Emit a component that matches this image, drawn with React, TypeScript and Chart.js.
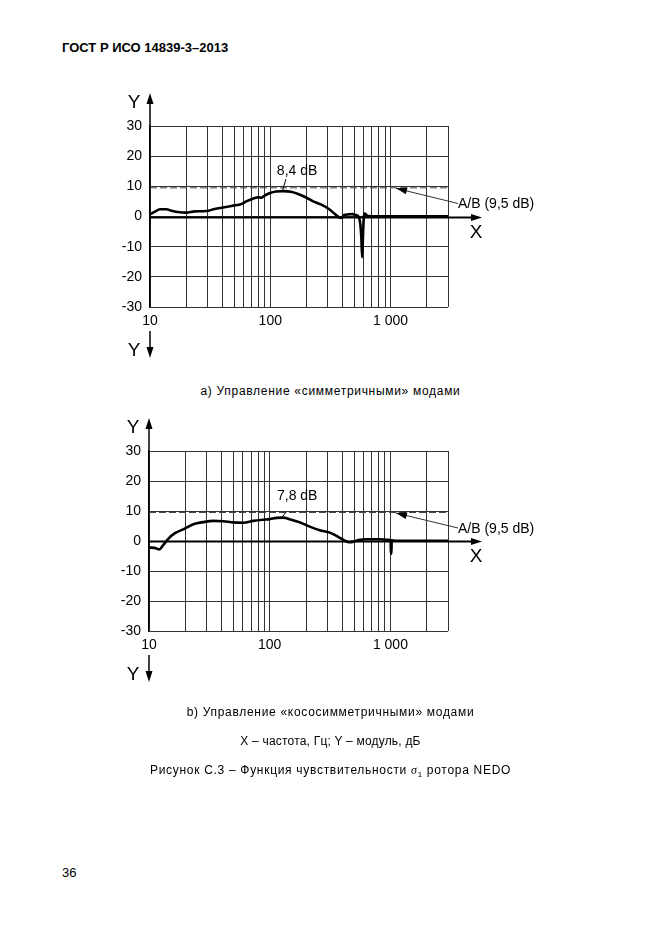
import React, { useEffect, useRef } from "react";
import { Chart, registerables } from "chart.js";

Chart.register(...registerables);

// ---------- data ----------
const GRID_FREQS = [10, 20, 30, 40, 50, 60, 70, 80, 90, 100, 200, 300, 400, 500, 600, 700, 800, 900, 1000, 2000, 3000];
const LABELED_FREQS = [10, 100, 1000];
const Y_TICKS = [-30, -20, -10, 0, 10, 20, 30];
const AB_LEVEL = 9.5;

// a) symmetric modes
const FREQ_A = [10, 11, 12.1, 13.7, 15.1, 17.7, 19.9, 23.6, 29.4, 34.5, 40.5, 49, 57.4, 63, 71.6, 80.3, 84, 89.5, 98.4, 111.7, 126.8, 148.6, 174, 198, 225, 263, 309, 340, 373, 389, 411, 447, 482, 513, 540, 560, 572, 580, 588, 597, 603, 621, 641, 700, 1000, 2000, 3000];
const MAG_A = [0.7, 1.6, 2.4, 2.4, 1.9, 1.4, 1.3, 1.7, 1.8, 2.5, 3.0, 3.6, 4.1, 5.0, 5.9, 6.4, 6.2, 6.9, 7.7, 8.3, 8.4, 8.2, 7.3, 6.3, 5.1, 4.0, 2.4, 1.0, -0.3, -0.5, 0.5, 0.7, 0.8, 0.5, 0.0, -2.5, -7.5, -13.5, -7.5, -1.0, 1.0, 0.8, 0.2, 0.1, 0.1, 0.1, 0.1];

// b) skew-symmetric modes
const FREQ_B = [10, 11.1, 12.2, 13.1, 14.5, 16.4, 19.2, 23.3, 28.2, 34.1, 41.2, 49.9, 60.4, 73, 88.3, 100, 114, 129, 151, 178, 215, 260, 315, 369, 419, 455, 507, 557, 633, 813, 955, 1005, 1008, 1020, 1024, 1100, 2000, 3000];
const MAG_B = [-2.2, -2.3, -2.8, -1.4, 0.8, 2.6, 3.9, 5.6, 6.3, 6.7, 6.6, 6.2, 6.1, 6.7, 7.1, 7.3, 7.7, 7.8, 7.1, 6.2, 4.8, 3.6, 2.8, 1.4, 0.1, -0.4, -0.1, 0.4, 0.6, 0.6, 0.4, 0.3, -4.2, -4.2, 0.2, 0.1, 0.1, 0.1];

const PEAK_LABEL_A = "8,4 dB";
const PEAK_LABEL_B = "7,8 dB";
const AB_LABEL = "A/B (9,5 dB)";

Chart.defaults.font.family = '"Liberation Sans", Arial, sans-serif';
Chart.defaults.color = "#000";

type Annot = {
  peakLabel: string;
  labelAt: [number, number];
  leaderFrom: [number, number];
  leaderTo: [number, number];
  abTipFreq: number;
};

const ANNOT_A: Annot = { peakLabel: PEAK_LABEL_A, labelAt: [167, 15], leaderFrom: [135, 12.4], leaderTo: [126, 8.5], abTipFreq: 1110 };
const ANNOT_B: Annot = { peakLabel: PEAK_LABEL_B, labelAt: [169, 15], leaderFrom: [138, 9.8], leaderTo: [126, 7.9], abTipFreq: 1110 };

function arrowHead(ctx: CanvasRenderingContext2D, tx: number, ty: number, fx: number, fy: number, len: number, half: number) {
  const dx = tx - fx, dy = ty - fy;
  const d = Math.hypot(dx, dy);
  const ux = dx / d, uy = dy / d;
  const bx = tx - ux * len, by = ty - uy * len;
  ctx.beginPath();
  ctx.moveTo(tx, ty);
  ctx.lineTo(bx - uy * half, by + ux * half);
  ctx.lineTo(bx + uy * half, by - ux * half);
  ctx.closePath();
  ctx.fill();
}

function makePlugin(a: Annot) {
  return {
    id: "annot",
    afterDatasetsDraw(chart: any) {
      const { ctx, chartArea, scales } = chart;
      const { left, right, top, bottom } = chartArea;
      const x = scales.x, y = scales.y;
      ctx.save();
      ctx.fillStyle = "#000";
      ctx.strokeStyle = "#000";
      // X axis (zero line) with arrow
      const y0 = Math.round(y.getPixelForValue(0)) + 0.5;
      ctx.lineWidth = 2;
      ctx.beginPath();
      ctx.moveTo(left, y0);
      ctx.lineTo(right + 26, y0);
      ctx.stroke();
      arrowHead(ctx, right + 34, y0, left, y0, 11, 3.5);
      // Y axis arrow top
      ctx.lineWidth = 1.5;
      ctx.beginPath();
      ctx.moveTo(left, top);
      ctx.lineTo(left, top - 24);
      ctx.stroke();
      arrowHead(ctx, left, top - 33, left, top, 11, 3.5);
      // Y arrow bottom (down)
      ctx.beginPath();
      ctx.moveTo(left, bottom + 24);
      ctx.lineTo(left, bottom + 44);
      ctx.stroke();
      arrowHead(ctx, left, bottom + 51, left, bottom + 24, 11, 3.5);
      // Axis letters
      ctx.font = '19px "Liberation Sans", Arial, sans-serif';
      ctx.textAlign = "center";
      ctx.textBaseline = "middle";
      ctx.fillText("Y", left - 16, top - 23);
      ctx.fillText("Y", left - 16, bottom + 44);
      ctx.fillText("X", right + 28, y0 + 15);
      // peak label
      ctx.font = '14px "Liberation Sans", Arial, sans-serif';
      ctx.fillText(a.peakLabel, x.getPixelForValue(a.labelAt[0]), y.getPixelForValue(a.labelAt[1]));
      ctx.lineWidth = 1;
      ctx.beginPath();
      ctx.moveTo(x.getPixelForValue(a.leaderFrom[0]), y.getPixelForValue(a.leaderFrom[1]));
      ctx.lineTo(x.getPixelForValue(a.leaderTo[0]), y.getPixelForValue(a.leaderTo[1]));
      ctx.stroke();
      // A/B label + arrow
      const ty = y.getPixelForValue(0) - 12;
      ctx.textAlign = "left";
      ctx.fillText(AB_LABEL, right + 10, ty);
      const tipX = x.getPixelForValue(a.abTipFreq);
      const tipY = y.getPixelForValue(AB_LEVEL) + 0.5;
      const sx = right + 10, sy = ty - 1;
      ctx.strokeStyle = "#333";
      ctx.beginPath();
      ctx.moveTo(sx, sy);
      ctx.lineTo(tipX, tipY);
      ctx.stroke();
      arrowHead(ctx, tipX, tipY, sx, sy, 11, 3.5);
      ctx.restore();
    },
  };
}

function ChartBox({ freqs, mags, annot, top, plotTop, plotBottom, plotLeft }: any) {
  const ref = useRef<HTMLCanvasElement>(null);
  useEffect(() => {
    const canvas = ref.current!;
    const H = 300;
    const chart = new Chart(canvas, {
      type: "line",
      data: {
        datasets: [
          {
            data: freqs.map((f: number, i: number) => ({ x: f, y: mags[i] })),
            borderColor: "#000",
            borderWidth: 2.6,
            pointRadius: 0,
            tension: 0,
            cubicInterpolationMode: "monotone",
            fill: false,
          } as any,
          {
            data: [
              { x: GRID_FREQS[0], y: AB_LEVEL },
              { x: GRID_FREQS[GRID_FREQS.length - 1], y: AB_LEVEL },
            ],
            borderColor: "#444",
            borderWidth: 1,
            borderDash: [7, 3],
            pointRadius: 0,
            fill: false,
          },
        ],
      },
      options: {
        animation: false,
        responsive: false,
        maintainAspectRatio: false,
        events: [],
        layout: {
          padding: { left: plotLeft - 40, right: 661 - 448, top: plotTop - top, bottom: H - (plotBottom - top) - 30 },
        },
        plugins: { legend: { display: false }, tooltip: { enabled: false } },
        scales: {
          x: {
            type: "logarithmic",
            min: 10,
            max: 3000,
            afterBuildTicks: (s: any) => {
              s.ticks = GRID_FREQS.map((v) => ({ value: v }));
            },
            afterFit: (s: any) => {
              s.height = 30;
            },
            grid: { color: "#333", lineWidth: 1, drawTicks: false },
            border: { display: false },
            ticks: {
              autoSkip: false,
              maxRotation: 0,
              padding: 6,
              font: { size: 14 },
              color: "#000",
              callback: (v: any) => {
                const n = Number(v);
                if (!LABELED_FREQS.includes(n)) return "";
                return n >= 1000 ? n.toLocaleString("en-US").replace(",", " ") : String(n);
              },
            },
          },
          y: {
            min: -30,
            max: 30,
            afterBuildTicks: (s: any) => {
              s.ticks = Y_TICKS.map((v) => ({ value: v }));
            },
            afterFit: (s: any) => {
              s.width = 40;
            },
            grid: { color: "#333", lineWidth: 1, drawTicks: false },
            border: { display: true, color: "#000", width: 1.5 },
            ticks: { padding: 8, font: { size: 14 }, color: "#000", callback: (v: any) => String(v) },
          },
        },
      },
      plugins: [makePlugin(annot)],
    });
    return () => chart.destroy();
  }, []);
  return (
    <canvas
      ref={ref}
      width={661}
      height={300}
      style={{ position: "absolute", left: 0, top, width: 661, height: 300 }}
    />
  );
}

const textBase: React.CSSProperties = {
  position: "absolute",
  fontFamily: '"Liberation Sans", Arial, sans-serif',
  color: "#000",
  whiteSpace: "nowrap",
  margin: 0,
};

function Line({ y, children, size = 13, spacing = 0 }: any) {
  return (
    <div
      style={{
        ...textBase,
        left: 0,
        width: 661,
        textAlign: "center",
        top: y - 8,
        height: 16,
        lineHeight: "16px",
        fontSize: size,
        letterSpacing: spacing,
      }}
    >
      {children}
    </div>
  );
}

export default function App() {
  return (
    <div style={{ position: "absolute", left: 0, top: 0, width: 661, height: 936, background: "#fff", overflow: "hidden" }}>
      <div style={{ ...textBase, left: 62, top: 40, lineHeight: "16px", fontSize: 13, fontWeight: "bold" }}>
        ГОСТ Р ИСО 14839-3–2013
      </div>
      <ChartBox freqs={FREQ_A} mags={MAG_A} annot={ANNOT_A} top={80} plotTop={126} plotBottom={307} plotLeft={150} />
      <Line y={391} size={12} spacing={0.7}>а) Управление «симметричными» модами</Line>
      <ChartBox freqs={FREQ_B} mags={MAG_B} annot={ANNOT_B} top={405} plotTop={451} plotBottom={631} plotLeft={149} />
      <Line y={712} size={12} spacing={0.7}>b) Управление «кососимметричными» модами</Line>
      <Line y={741} size={12} spacing={0.2}>X – частота, Гц; Y – модуль, дБ</Line>
      <Line y={770} size={12} spacing={0.7}>
        Рисунок С.3 – Функция чувствительности <i style={{ fontFamily: "serif" }}>σ</i>
        <sub style={{ fontSize: 8 }}>1</sub> ротора NEDO
      </Line>
      <div style={{ ...textBase, left: 62, top: 865, lineHeight: "16px", fontSize: 13 }}>36</div>
    </div>
  );
}
